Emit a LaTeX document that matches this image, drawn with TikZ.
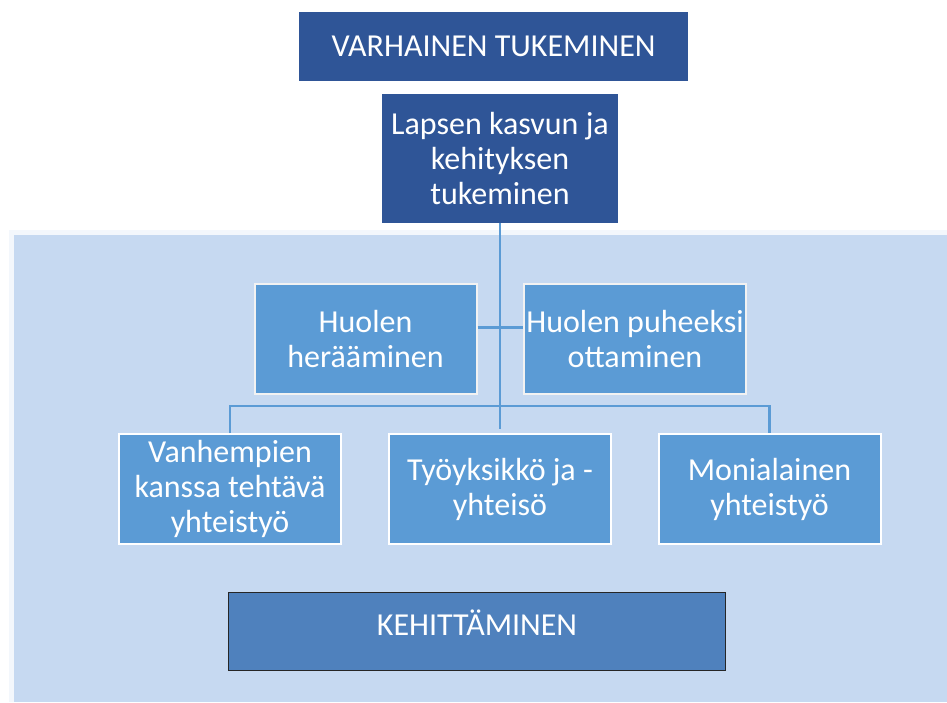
\documentclass[tikz,border=0pt]{standalone}
\usepackage{fontspec}
\setmainfont{Carlito}
\definecolor{darkblue}{HTML}{2F5597}
\definecolor{midblue}{HTML}{5B9BD5}
\definecolor{lightbg}{HTML}{C6D9F1}
\definecolor{faintbg}{HTML}{F3F7FC}
\definecolor{kehblue}{HTML}{4F81BD}
\definecolor{linkblue}{HTML}{5B9BD5}
\begin{document}
\begin{tikzpicture}[x=1pt,y=-1pt,
  txt/.style={text=white,font=\fontsize{32}{35}\selectfont,align=center,inner sep=0pt},
  topbox/.style={txt,fill=darkblue,draw=none},
  midbox/.style={txt,fill=midblue,draw=white!90!gray,line width=2pt,minimum width=222pt,minimum height=110pt},
  link/.style={draw=linkblue,line width=2.6pt}]
\useasboundingbox (0,0) rectangle (947,702);
\fill[white] (0,0) rectangle (947,702);
\fill[faintbg] (9,230) rectangle (947,702);
\fill[lightbg] (14,235) rectangle (947,702);
\node[topbox,minimum width=389pt,minimum height=69pt] (title) at (493.5,46.5) {VARHAINEN TUKEMINEN};
\node[topbox,minimum width=236pt,minimum height=129pt] (lapsen) at (500,158.5) {Lapsen kasvun ja\\kehityksen\\tukeminen};
\node[midbox] (huol) at (365.5,338.5) {Huolen\\herääminen};
\node[midbox] (puh) at (635,338.5) {Huolen puheeksi\\ottaminen};
\node[midbox,draw=white] (van) at (230,489) {Vanhempien\\kanssa tehtävä\\yhteistyö};
\node[midbox,draw=white] (tyo) at (500,489) {Työyksikkö ja -\\yhteisö};
\node[midbox,draw=white] (moni) at (769.5,489) {Monialainen\\yhteistyö};
\node[txt,fill=kehblue,draw=black!85,line width=1.2pt,minimum width=497pt,minimum height=78pt,
  label={[txt,yshift=9pt]center:KEHITTÄMINEN}] (keh) at (477,631.5) {};
\coordinate (bus) at (500,406);
\draw[link] (lapsen.south) -- ([yshift=4pt]tyo.north);
\draw[link] ([yshift=11pt]huol.east) -- ([yshift=11pt]puh.west);
\draw[link] (van.north) |- (bus) -| (moni.north);
\end{tikzpicture}
\end{document}
